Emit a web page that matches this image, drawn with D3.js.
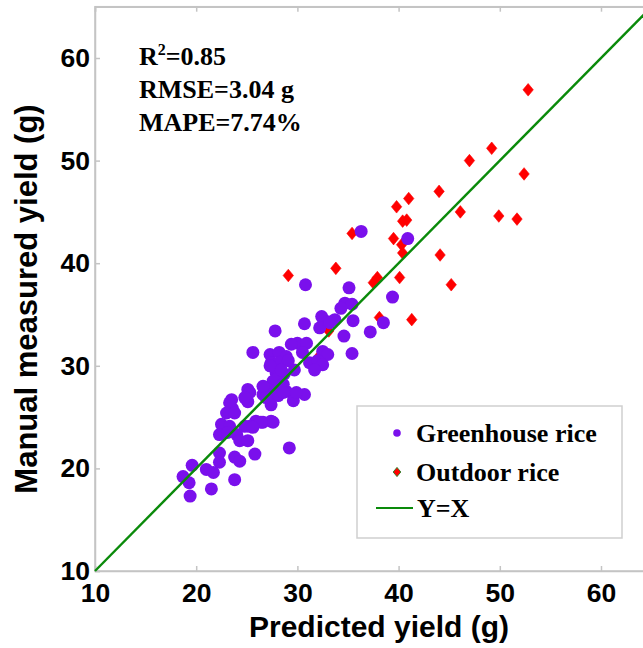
<!DOCTYPE html>
<html><head><meta charset="utf-8">
<script src="https://cdn.jsdelivr.net/npm/d3@7"></script>
<style>
html,body{margin:0;padding:0;background:#fff;overflow:hidden;}
svg{display:block;}
</style></head>
<body>
<svg id="chart" width="643" height="648"></svg>
<script>
// Greenhouse rice: predicted (x) vs manual measured (y)
const greenhouseX = [36.3,40.9,30.8,35.1,39.4,34.7,35.4,34.3,32.4,33.0,33.7,35.5,38.5,30.7,32.2,33.2,27.8,37.2,34.6,30.0,30.9,29.4,25.6,27.3,28.2,28.9,30.5,32.5,33.0,35.4,27.4,28.2,29.1,31.2,32.0,32.5,29.7,31.7,27.9,28.7,27.6,28.2,26.8,27.4,28.6,28.9,25.1,26.6,27.3,28.1,25.0,27.4,29.6,30.7,23.5,23.6,23.3,23.0,23.8,25.1,25.9,26.6,27.4,25.3,24.8,22.5,23.3,22.3,23.1,24.0,24.3,25.1,29.2,25.8,22.3,23.8,24.3,22.3,19.6,21.0,21.7,18.7,19.3,23.8,21.5,19.4,27.9,28.6,29.9,25.3,24.8,26.6,28.1,28.6,26.9,27.6,26.4,25.6,27.3,28.4];
const greenhouseY = [43.1,42.4,37.9,37.6,36.7,36.1,36.0,35.6,34.8,34.3,34.5,34.4,34.2,34.1,33.7,34.2,33.4,33.3,32.9,32.2,32.2,32.1,31.3,31.1,31.3,30.9,31.3,31.4,31.1,31.2,30.3,30.3,30.5,30.3,30.5,30.1,29.6,29.6,29.3,29.2,28.5,28.4,27.9,27.7,27.7,27.5,27.7,27.2,26.9,27.1,26.7,26.2,26.6,27.2,26.7,25.8,26.4,25.4,25.4,26.5,24.6,24.5,24.6,24.1,24.1,24.3,24.1,23.3,23.5,23.3,22.7,22.7,22.0,21.4,21.5,21.1,20.7,20.6,20.3,19.9,19.6,19.2,18.6,18.9,18.0,17.3,28.7,28.2,27.4,27.4,26.9,28.0,27.2,27.4,26.9,24.5,24.5,24.0,30.0,29.6];
// Outdoor rice
const outdoorX = [52.8,49.2,47.0,52.4,44.0,41.0,39.8,40.4,40.8,46.1,49.9,51.7,35.4,39.5,40.3,40.4,44.1,29.1,33.8,37.9,37.5,40.1,45.2,38.1,41.3,33.1,32.2];
const outdoorY = [56.9,51.2,50.0,48.7,47.0,46.3,45.5,44.1,44.2,45.0,44.6,44.3,42.9,42.4,41.8,41.0,40.8,38.8,39.5,38.6,38.1,38.6,37.9,34.7,34.5,33.4,31.0];
const xTicks = [10,20,30,40,50,60];
const yTicks = [10,20,30,40,50,60];
const axisDomain = [10,65];
const statLines = ["=0.85","RMSE=3.04 g","MAPE=7.74%"];
const legendLabels = ["Greenhouse rice","Outdoor rice","Y=X"];
const xTitle = "Predicted yield (g)";
const yTitle = "Manual measured yield (g)";

const svg = d3.select("#chart");
const L = 95, R = 651.6, T = 6.7, B = 571;
const x = d3.scaleLinear().domain(axisDomain).range([L, R]);
const y = d3.scaleLinear().domain(axisDomain).range([B, T]);
const axisColor = "#c4c4c4";
const sans = "'Liberation Sans', Arial, sans-serif";
const serif = "'Liberation Serif', 'Times New Roman', serif";
const purple = "#7a10ec";

// frame
svg.append("rect").attr("x", L).attr("y", T).attr("width", R - L).attr("height", B - T)
  .attr("fill", "none").attr("stroke", axisColor).attr("stroke-width", 1.5);

function styleAxis(g, fs) {
  g.select(".domain").attr("stroke", axisColor).attr("stroke-width", 1.5);
  g.selectAll(".tick line").attr("stroke", axisColor).attr("stroke-width", 1.5);
  g.selectAll(".tick text").attr("fill", "#000").attr("font-family", sans)
    .attr("font-weight", "bold").attr("font-size", fs);
}
const gx = svg.append("g").attr("transform", `translate(0,${B})`)
  .call(d3.axisBottom(x).tickValues(xTicks).tickSize(-5).tickPadding(12).tickFormat(d3.format("d")));
styleAxis(gx, 26.5);
const gy = svg.append("g").attr("transform", `translate(${L},0)`)
  .call(d3.axisLeft(y).tickValues(yTicks).tickSize(-5).tickPadding(5).tickFormat(d3.format("d")));
styleAxis(gy, 26.5);
const gt = svg.append("g").attr("transform", `translate(0,${T})`)
  .call(d3.axisTop(x).tickValues(xTicks).tickSize(-5).tickFormat(""));
styleAxis(gt, 26.5);
const gr = svg.append("g").attr("transform", `translate(${R},0)`)
  .call(d3.axisRight(y).tickValues(yTicks).tickSize(-5).tickFormat(""));
styleAxis(gr, 26.5);

// outdoor diamonds (beneath greenhouse circles)
const diamond = (cx, cy, w, h) => `M${cx},${cy-h}L${cx+w},${cy}L${cx},${cy+h}L${cx-w},${cy}Z`;
svg.append("g").selectAll("path").data(outdoorX.map((d, i) => [d, outdoorY[i]])).join("path")
  .attr("d", d => diamond(x(d[0]), y(d[1]), 5.2, 6.3))
  .attr("fill", "#ff0000").attr("stroke", "#ff0000").attr("stroke-width", 0.6);

// greenhouse circles
svg.append("g").selectAll("circle").data(greenhouseX.map((d, i) => [d, greenhouseY[i]])).join("circle")
  .attr("cx", d => x(d[0])).attr("cy", d => y(d[1])).attr("r", 6.5)
  .attr("fill", purple);

// Y = X line
svg.append("line").attr("x1", x(axisDomain[0])).attr("y1", y(axisDomain[0]))
  .attr("x2", x(axisDomain[1])).attr("y2", y(axisDomain[1]))
  .attr("stroke", "#0a8a0a").attr("stroke-width", 2.4);

// statistics text
const st = svg.append("g").attr("font-family", serif).attr("font-weight", "bold")
  .attr("font-size", 26).attr("fill", "#000");
const t0 = st.append("text").attr("x", 139).attr("y", 65);
t0.append("tspan").text("R");
t0.append("tspan").attr("font-size", 16).attr("dy", -10).text("2");
t0.append("tspan").attr("dy", 10).text(statLines[0]);
st.append("text").attr("x", 139).attr("y", 98).text(statLines[1]);
st.append("text").attr("x", 139).attr("y", 131).text(statLines[2]);

// legend
const lg = svg.append("g");
lg.append("rect").attr("x", 357).attr("y", 406).attr("width", 265).attr("height", 132)
  .attr("fill", "#fff").attr("stroke", "#cfcfcf").attr("stroke-width", 1.5);
lg.append("circle").attr("cx", 397).attr("cy", 433).attr("r", 3.8).attr("fill", purple);
lg.append("path").attr("d", diamond(397, 472, 3.8, 4.6)).attr("fill", "#ff0000")
  .attr("stroke", "#1f7a1f").attr("stroke-width", 0.9);
lg.append("line").attr("x1", 376).attr("x2", 413).attr("y1", 508).attr("y2", 508)
  .attr("stroke", "#0a8a0a").attr("stroke-width", 2.2);
const ly = [442, 481, 517];
legendLabels.forEach((t, i) => {
  lg.append("text").attr("x", i === 2 ? 417 : 416).attr("y", ly[i])
    .attr("font-family", serif).attr("font-weight", "bold").attr("font-size", 26).text(t);
});

// axis titles
svg.append("text").attr("x", 379).attr("y", 637).attr("text-anchor", "middle")
  .attr("font-family", sans).attr("font-weight", "bold").attr("font-size", 30).text(xTitle);
svg.append("text").attr("transform", "translate(37,299) rotate(-90)").attr("text-anchor", "middle")
  .attr("font-family", sans).attr("font-weight", "bold").attr("font-size", 31).text(yTitle);
</script>
</body></html>
